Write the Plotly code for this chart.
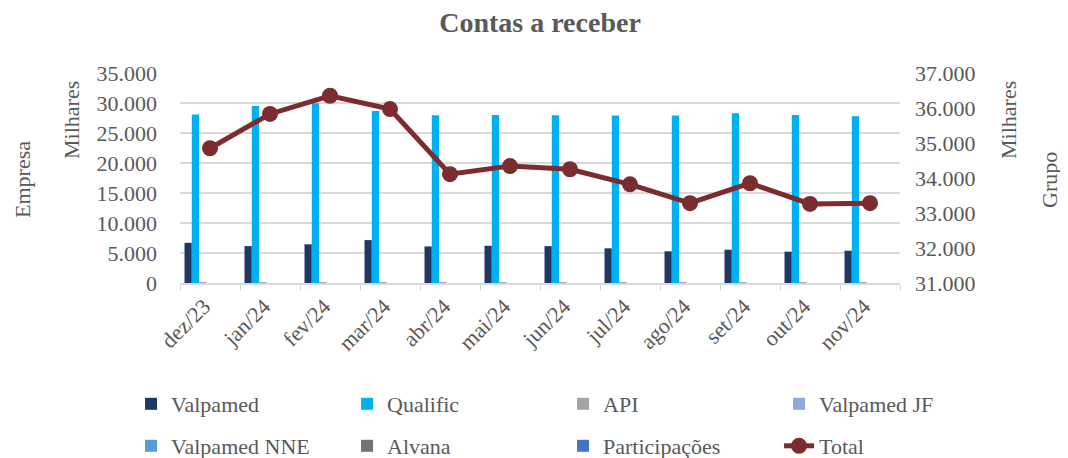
import plotly.graph_objects as go

months = ["dez/23", "jan/24", "fev/24", "mar/24", "abr/24", "mai/24",
          "jun/24", "jul/24", "ago/24", "set/24", "out/24", "nov/24"]

valpamed = [6700, 6150, 6450, 7150, 6100, 6200, 6150, 5780, 5280, 5550, 5220, 5380]
qualific = [28100, 29500, 29950, 28650, 27950, 28000, 27950, 27900, 27900, 28280, 28000, 27780]
api = [150, 150, 150, 150, 150, 150, 150, 150, 150, 150, 150, 150]
valpamed_jf = [0] * 12
valpamed_nne = [0] * 12
alvana = [0] * 12
participacoes = [0] * 12
total = [34850, 35830, 36350, 35970, 34110, 34340, 34250, 33820, 33280, 33850, 33260, 33280]

left_ticks = [0, 5000, 10000, 15000, 20000, 25000, 30000, 35000]
right_ticks = [31000, 32000, 33000, 34000, 35000, 36000, 37000]

FONT = "Liberation Serif"
GREY = "#595959"
FS = 22

fig = go.Figure()
bar_series = [
    ("Valpamed", valpamed, "#1F3864", "legend"),
    ("Qualific", qualific, "#00B0F0", "legend"),
    ("API", api, "#A5A5A5", "legend"),
    ("Valpamed JF", valpamed_jf, "#8EA9DB", "legend"),
    ("Valpamed NNE", valpamed_nne, "#5B9BD5", "legend2"),
    ("Alvana", alvana, "#767171", "legend2"),
    ("Participações", participacoes, "#4472C4", "legend2"),
]
for name, vals, col, leg in bar_series:
    fig.add_trace(go.Bar(x=months, y=vals, name=name, marker_color=col,
                         marker_line_width=0, yaxis="y", legend=leg))

fig.add_trace(go.Scatter(x=months, y=total, name="Total", yaxis="y2",
                         mode="lines+markers", legend="legend2",
                         line=dict(color="#7B2C2F", width=5),
                         marker=dict(color="#7B2C2F", size=16)))

legend_common = dict(orientation="h", x=-0.068, xanchor="left",
                     entrywidth=171, entrywidthmode="pixels",
                     font=dict(size=FS, color=GREY, family=FONT),
                     itemwidth=30, bgcolor="rgba(0,0,0,0)")

# page body has an 8px margin, so the figure is drawn 8px smaller and shifted
fig.update_layout(
    width=1060, height=450,
    margin=dict(l=172, r=168, t=65, b=175, autoexpand=False),
    paper_bgcolor="white", plot_bgcolor="white",
    separators=",.",
    font=dict(family=FONT, color=GREY, size=FS),
    title=dict(text="<b>Contas a receber</b>", x=(540 - 8) / 1060, xanchor="center",
               y=1 - (22 - 8) / 450, yanchor="middle",
               font=dict(size=28, color=GREY, family=FONT)),
    barmode="group", bargap=0.15, bargroupgap=0,
    showlegend=True,
    legend=dict(**legend_common, y=-(404 - 283) / 210, yanchor="middle"),
    legend2=dict(**legend_common, y=-(446 - 283) / 210, yanchor="middle"),
    xaxis=dict(type="category", range=[-0.5, len(months) - 0.5],
               showline=True, linecolor="#D9D9D9", linewidth=1.5,
               ticks="outside", tickson="boundaries", ticklen=6, tickcolor="#D9D9D9",
               tickangle=-45, ticklabelshift=-6,
               tickfont=dict(size=FS, color=GREY), showgrid=False,
               automargin=False),
    yaxis=dict(range=[0, 35000], tickvals=left_ticks, tickformat=",.0f",
               showgrid=True, gridcolor="#D9D9D9", gridwidth=1.5,
               zeroline=False, showline=False, ticks="", automargin=False,
               ticklabelstandoff=22,
               tickfont=dict(size=FS, color=GREY)),
    yaxis2=dict(range=[31000, 37000], tickvals=right_ticks, tickformat=",.0f",
                overlaying="y", side="right", showgrid=False, zeroline=False,
                showline=False, ticks="", automargin=False,
                ticklabelstandoff=14,
                tickfont=dict(size=FS, color=GREY)),
)

annots = [
    dict(text="Empresa", x=22, y=180),
    dict(text="Milhares", x=71, y=120),
    dict(text="Milhares", x=1008, y=120),
    dict(text="Grupo", x=1049, y=180),
]
for a in annots:
    fig.add_annotation(text=a["text"], textangle=-90, showarrow=False,
                       xref="paper", yref="paper",
                       x=(a["x"] - 180) / 720, y=(283 - a["y"]) / 210,
                       xanchor="center", yanchor="middle",
                       font=dict(size=FS, color=GREY, family=FONT))

fig.write_html("out.html")
